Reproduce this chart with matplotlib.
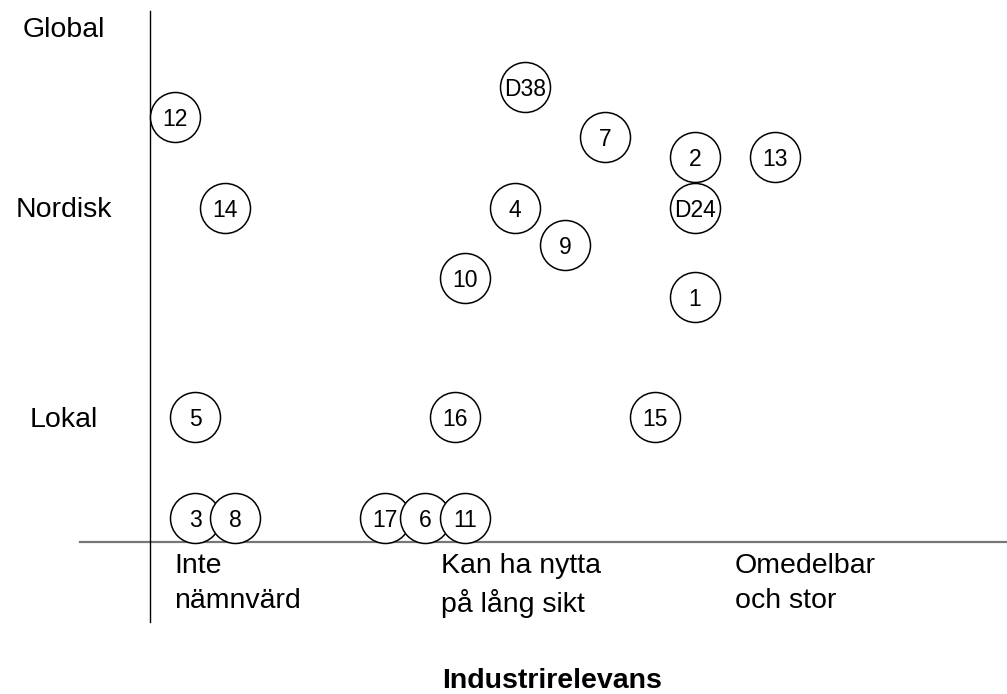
import matplotlib.pyplot as plt

plt.rcParams['font.family'] = ['Liberation Sans', 'DejaVu Sans']

# Items (labels) and their position on the chart (x = industry relevance, y = reach)
labels = ['12', '14', 'D38', '7', '2', '13', '4', 'D24', '9', '10', '1',
          '5', '16', '15', '3', '8', '17', '6', '11']
x_pos = [175, 225, 525, 605, 695, 775, 515, 695, 565, 465, 695,
         195, 455, 655, 195, 235, 385, 425, 465]
y_pos = [117, 208, 87, 137, 157, 157, 208, 208, 245, 278, 297,
         417, 417, 417, 518, 518, 518, 518, 518]

# Axis category texts
y_cats = ['Global', 'Nordisk', 'Lokal']
y_cat_pos = [37, 217, 427]
x_cats = ['Inte\nnämnvärd', 'Kan ha nytta\npå lång sikt', 'Omedelbar\noch stor']
x_cat_pos = [174, 441, 735]
x_title = 'Industrirelevans'

fig = plt.figure(figsize=(10.07, 6.94), dpi=100)
ax = fig.add_axes([0, 0, 1, 1])
ax.set_xlim(0, 1007)
ax.set_ylim(694, 0)
ax.axis('off')

# Axes lines
ax.plot([80, 1007], [542, 542], color='#777777', lw=1.6, zorder=1)
ax.plot([150, 150], [11, 622], color='black', lw=1.0, zorder=2)

# Circles (drawn in order, later ones on top)
for lab, x, y in zip(labels, x_pos, y_pos):
    ax.scatter([x], [y], s=1296, facecolor='white', edgecolor='black',
               linewidths=1.1, zorder=3)
    ax.text(x, y + 9, lab, ha='center', va='baseline', fontsize=16.5,
            zorder=4)

for lab, y in zip(y_cats, y_cat_pos):
    ax.text(64, y, lab, ha='center', va='baseline', fontsize=20.5)

for lab, x in zip(x_cats, x_cat_pos):
    ax.text(x, 553, lab, ha='left', va='top', fontsize=20.5, linespacing=1.45)

ax.text(552, 688, x_title, ha='center', va='baseline', fontsize=20.5,
        fontweight='bold')

fig.savefig('out.png', dpi=100)
